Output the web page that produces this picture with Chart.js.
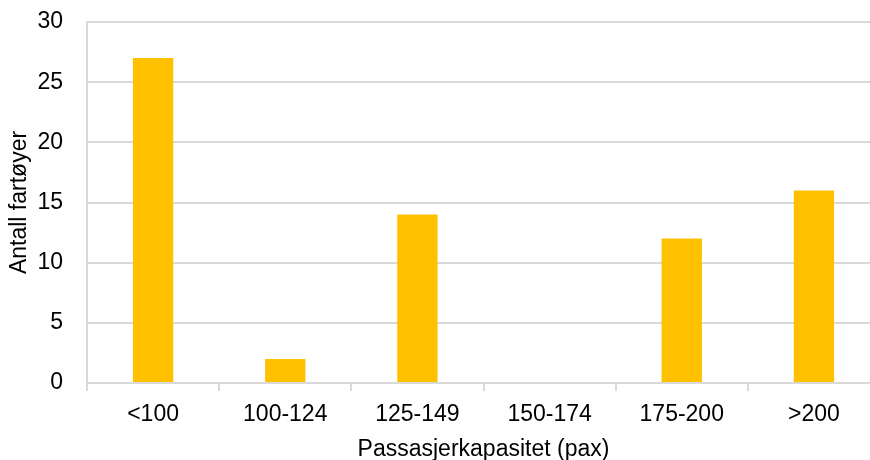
<!DOCTYPE html>
<html>
<head>
<meta charset="utf-8">
<script src="https://cdn.jsdelivr.net/npm/chart.js@4/dist/chart.umd.min.js"></script>
<style>
  html, body { margin: 0; padding: 0; background: #fff; overflow: hidden; width: 870px; height: 460px; }
  #wrap { position: absolute; left: 0; top: 0; width: 880px; height: 465px; }
</style>
</head>
<body>
<div id="wrap"><canvas id="c" width="880" height="465"></canvas></div>
<script>
// Vessel counts by passenger capacity band
const categories = ['<100', '100-124', '125-149', '150-174', '175-200', '>200'];
const vessels = [27, 2, 14, 0, 12, 16];
const yTicks = [0, 5, 10, 15, 20, 25, 30];

const FONT = 'Liberation Sans, Arial, Helvetica, sans-serif';
const GRID = '#d9d9d9';
const FS = 23;

new Chart(document.getElementById('c'), {
  type: 'bar',
  data: {
    labels: categories,
    datasets: [{
      data: vessels,
      backgroundColor: '#ffc000',
      borderWidth: 0,
      barPercentage: 0.61,
      categoryPercentage: 0.5
    }]
  },
  options: {
    responsive: false,
    animation: false,
    devicePixelRatio: 1,
    layout: { padding: { top: 22, right: 0, bottom: 0, left: 0 } },
    plugins: { legend: { display: false }, tooltip: { enabled: false } },
    scales: {
      x: {
        offset: true,
        grid: {
          offset: true,
          drawOnChartArea: false,
          drawTicks: true,
          tickLength: 8,
          color: GRID,
          lineWidth: 2
        },
        border: { color: GRID, width: 2 },
        ticks: {
          color: '#000',
          font: { family: FONT, size: FS },
          padding: 10,
          maxRotation: 0,
          autoSkip: false
        },
        title: {
          display: true,
          text: 'Passasjerkapasitet (pax)',
          color: '#000',
          font: { family: FONT, size: FS },
          padding: { top: 0, bottom: 2 }
        },
        afterFit: s => { s.height = 82; }
      },
      y: {
        min: 0,
        max: 30,
        afterBuildTicks: s => { s.ticks = yTicks.map(v => ({ value: v })); },
        grid: { color: GRID, lineWidth: 2, drawTicks: false },
        border: { color: GRID, width: 2 },
        ticks: {
          color: '#000',
          font: { family: FONT, size: FS },
          padding: 24
        },
        title: {
          display: true,
          text: 'Antall fartøyer',
          color: '#000',
          font: { family: FONT, size: FS },
          padding: { top: 6, bottom: 2 }
        },
        afterFit: s => { s.width = 87; s.paddingTop = 0; s.paddingBottom = 0; }
      }
    }
  }
});
</script>
</body>
</html>
